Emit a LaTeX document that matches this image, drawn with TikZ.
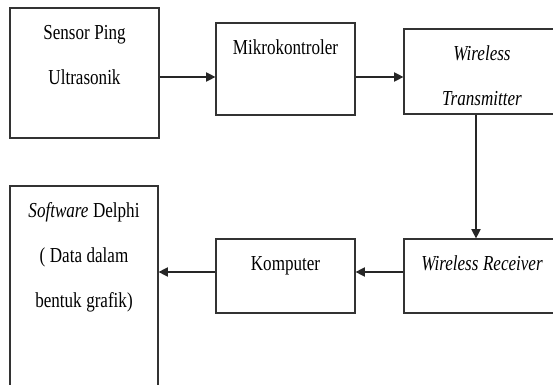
\documentclass[tikz,border=0pt]{standalone}
\usepackage{fontspec}
\setmainfont{Liberation Serif}[FakeStretch=0.8]
\usepackage{tikz}
\usetikzlibrary{arrows.meta,calc,positioning}

\begin{document}
\begin{tikzpicture}[x=0.75pt,y=0.75pt]

    \tikzstyle{lcomp} = [draw=black!80, line width=0.9pt, inner xsep=0pt, inner ysep=0pt,
        text height=24pt, align=center, font=\fontsize{16}{33.4}\selectfont,
        execute at begin node={\spaceskip=3.4pt\relax}]

    \tikzstyle{wide} = [lcomp, text width=111.75pt]
    \tikzstyle{mid} = [lcomp, text width=104.25pt]
    \tikzstyle{wireless} = [lcomp, text width=117pt]

    \tikzstyle{arr} = [draw=black!85, line width=0.9pt, -{Triangle[length=7pt,width=7pt]}]

    \useasboundingbox (0,0) rectangle (553,385);
    \clip (0,0) rectangle (553,385);

    % Sensor
    \node [wide, text depth=73.5pt] (sensor) at (84.5,312) {Sensor Ping\\Ultrasonik};

    % Mikrokontroler
    \node [mid, text depth=45pt, right of=sensor, node distance=150.75pt, yshift=3pt] (mikro) {Mikrokontroler};

    % Wireless
    \node [wireless, text depth=39.75pt, right of=mikro, node distance=147.375pt, yshift=-1.875pt] (trans) {\textit{Wireless}\\\textit{Transmitter}};
    \node [wireless, text depth=31.5pt, below of=trans, node distance=153.375pt] (recv) {\textit{Wireless Receiver}};

    % Komputer
    \node [mid, text depth=31.5pt, left of=recv, node distance=147.375pt] (komp) {Komputer};

    % Software
    \node [wide, text width=111pt, text depth=132.75pt, left of=komp, node distance=151.125pt, yshift=-10.875pt] (soft) {\textit{Software} Delphi\\( Data dalam\\bentuk grafik)};

    \draw[arr] ([yshift=-6pt]mikro.west -| sensor.east) -- ([yshift=-6pt]mikro.west);
    \draw[arr] ([yshift=-6pt]mikro.east) -- ([yshift=-6pt]mikro.east -| trans.west);
    \draw[arr] ([xshift=-4.5pt]trans.south) -- ([xshift=-4.5pt]trans.south |- recv.north);
    \draw[arr] ([yshift=3pt]recv.west) -- ([yshift=3pt]recv.west -| komp.east);
    \draw[arr] ([yshift=3pt]komp.west) -- ([yshift=3pt]komp.west -| soft.east);

\end{tikzpicture}
\end{document}
